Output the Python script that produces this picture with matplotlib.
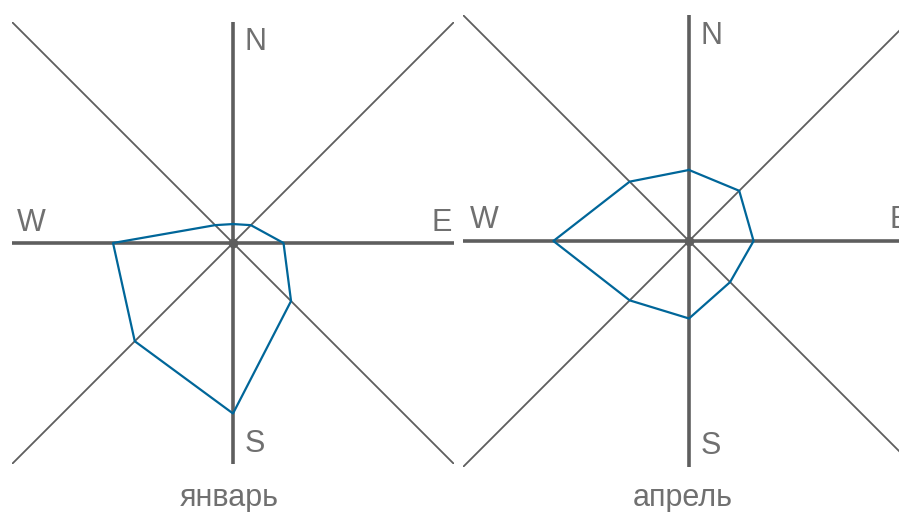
import matplotlib
matplotlib.use("Agg")
import matplotlib.pyplot as plt
import numpy as np

# wind frequency by direction, %
directions = ["N", "NE", "E", "SE", "S", "SW", "W", "NW"]
angles_deg = [90, 45, 0, -45, -90, -135, 180, 135]
january = [3, 4, 8, 13, 27, 22, 19, 4]
april = [11, 11, 10, 9, 12, 13, 21, 13]
months = ["январь", "апрель"]

LIM = 35
GRAY = "#5e5e5e"
TEXT = "#707070"
BLUE = "#006699"
FONT = ["Liberation Sans", "DejaVu Sans"]

W, H = 899, 512


def px_rect(cx, cy, half):
    """axes rect from a centre (pixels from top-left) and half size"""
    return [(cx - half) / W, (H - cy - half) / H, 2 * half / W, 2 * half / H]


def rose(ax, values, lab_dx=0.0, e_dx=0.0):
    ax.set_xlim(-LIM, LIM)
    ax.set_ylim(-LIM, LIM)
    ax.set_aspect("equal")
    ax.axis("off")
    # diagonals
    ax.plot([-LIM, LIM], [-LIM, LIM], color=GRAY, lw=1.3, solid_capstyle="butt")
    ax.plot([-LIM, LIM], [LIM, -LIM], color=GRAY, lw=1.3, solid_capstyle="butt")
    # main axes
    ax.plot([-LIM, LIM], [0, 0], color=GRAY, lw=2.6, solid_capstyle="butt")
    ax.plot([0, 0], [-LIM, LIM], color=GRAY, lw=2.6, solid_capstyle="butt")
    ax.plot(0, 0, "o", color=GRAY, ms=6)

    a = np.radians(angles_deg)
    r = np.array(values, dtype=float)
    x = np.append(r * np.cos(a), r[0] * np.cos(a[0]))
    y = np.append(r * np.sin(a), r[0] * np.sin(a[0]))
    ax.plot(x, y, color=BLUE, lw=1.6, zorder=5)

    kw = dict(color=TEXT, fontsize=22, family=FONT, va="center", ha="left")
    ax.text(1.8, 31.8, "N", **kw)
    ax.text(-34.2 + lab_dx, 3.2, "W", **kw)
    ax.text(31.4 + e_dx, 3.2, "E", **kw)
    ax.text(1.8, -31.8, "S", **kw)


fig = plt.figure(figsize=(W / 100, H / 100), dpi=100)
ax1 = fig.add_axes(px_rect(233, 243, 221))
ax2 = fig.add_axes(px_rect(689, 241, 226))
rose(ax1, january)
rose(ax2, april, lab_dx=0.3, e_dx=-0.3)

# month captions under each rose
for cx, name in zip([229, 683], months):
    fig.text(cx / W, (H - 506) / H, name, color=TEXT, fontsize=22,
             family=FONT, ha="center", va="baseline")

fig.savefig("out.png", dpi=100, facecolor="white")
